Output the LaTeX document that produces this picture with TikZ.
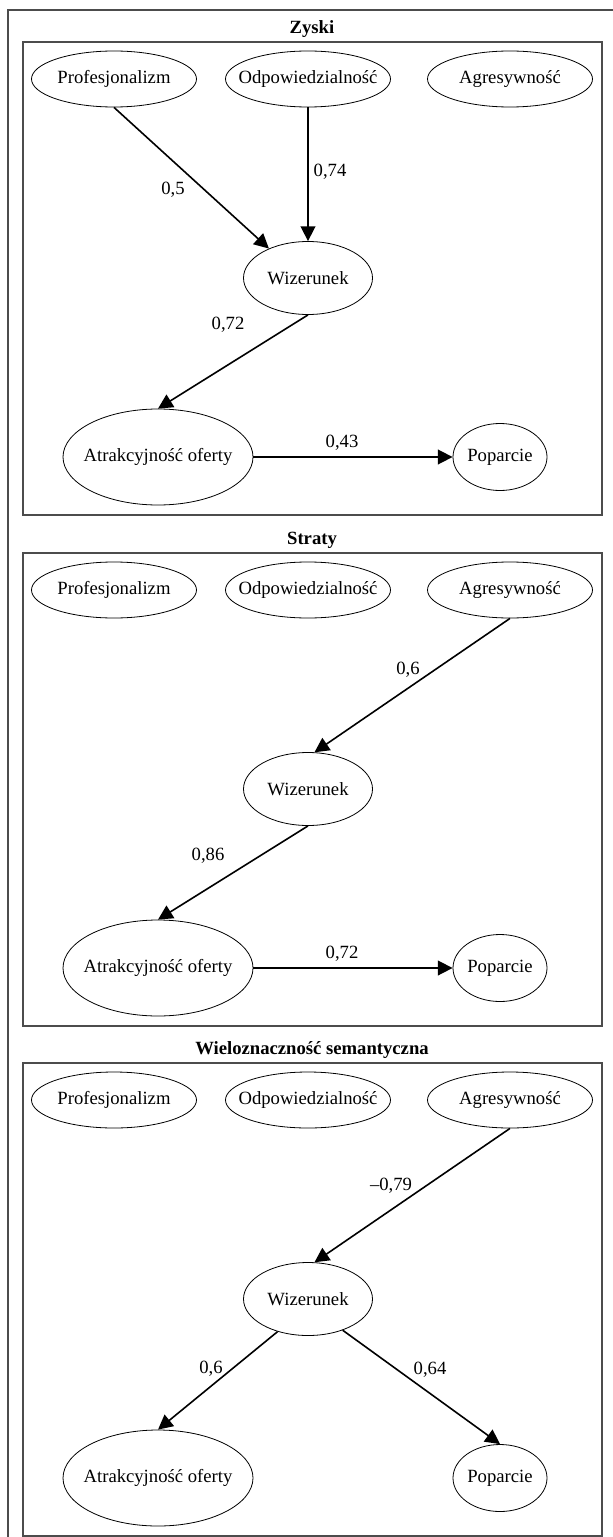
\documentclass[tikz,border=0pt]{standalone}
\usepackage{fontspec}
\setmainfont{Liberation Serif}
\usetikzlibrary{arrows.meta,shapes.geometric}

% zero-width box: the ellipse size comes from the style only
\newcommand{\ctext}[1]{\makebox[0pt]{#1}}

\tikzset{
  frame/.style={draw=black!70, line width=1pt},
  panel/.style={draw=black!70, line width=1pt},
  paneltitle/.style={font=\fontsize{14}{16}\selectfont\bfseries, inner sep=0pt},
  var/.style={ellipse, draw, line width=0.6pt, inner sep=0pt},
  rowvar/.style={var, minimum width=123.75pt, minimum height=42pt},
  midvar/.style={var, minimum width=96.75pt, minimum height=54.75pt},
  bigvar/.style={var, minimum width=142.5pt, minimum height=72pt},
  endvar/.style={var, minimum width=70.5pt, minimum height=50.25pt},
  arr/.style={-{Triangle[length=11pt, width=11pt]}, line width=1.2pt},
  lbl/.style={inner sep=0pt}
}

\begin{document}
\begin{tikzpicture}[x=0.75pt, y=-0.75pt, font=\fontsize{14}{16}\selectfont]
  \useasboundingbox (0,0) rectangle (613,1537);
  \clip (0,0) rectangle (613,1537);
  \draw[frame] (8,10) rectangle (640,1560);

  % three panels with the same variables
  \foreach \i/\T/\ttl in {1/42/Zyski, 2/553/Straty, 3/1063/Wieloznaczność semantyczna} {
    \draw[panel] (23,\T) rectangle (602,\T+473);
    \node[paneltitle] (h\i) at (312,\T-13) {\ttl};
    \node[rowvar] (p\i) at (114,\T+37) {\ctext{Profesjonalizm}};
    \node[rowvar] (o\i) at (308,\T+37) {\ctext{Odpowiedzialność}};
    \node[rowvar] (a\i) at (510,\T+37) {\ctext{Agresywność}};
    \node[midvar] (w\i) at (308,\T+236) {\ctext{Wizerunek}};
    \node[bigvar] (t\i) at (158,\T+415) {\ctext{Atrakcyjność oferty}};
    \node[endvar] (s\i) at (500,\T+415) {\ctext{Poparcie}};
  }

  % Zyski
  \draw[arr] (p1.south) -- (w1.143);
  \draw[arr] (o1.south) -- (w1.north);
  \draw[arr] (w1.south) -- (t1.north);
  \draw[arr] (t1.east) -- (s1.west);
  \node[lbl] (l1pw) at (173,190) {0,5};
  \node[lbl] (l1ow) at (330,172) {0,74};
  \node[lbl] (l1wt) at (228,325) {0,72};
  \node[lbl] (l1ts) at (342,443) {0,43};

  % Straty
  \draw[arr] (a2.south) -- (w2.80);
  \draw[arr] (w2.south) -- (t2.north);
  \draw[arr] (t2.east) -- (s2.west);
  \node[lbl] (l2aw) at (408,670) {0,6};
  \node[lbl] (l2wt) at (208,856) {0,86};
  \node[lbl] (l2ts) at (342,954) {0,72};

  % Wieloznacznosc semantyczna
  \draw[arr] (a3.south) -- (w3.80);
  \draw[arr] (w3.227) -- (t3.north);
  \draw[arr] (w3.318) -- (s3.north);
  \node[lbl] (l3aw) at (391,1186) {\textendash0,79};
  \node[lbl] (l3wt) at (211,1369) {0,6};
  \node[lbl] (l3ws) at (430,1370) {0,64};
\end{tikzpicture}
\end{document}
